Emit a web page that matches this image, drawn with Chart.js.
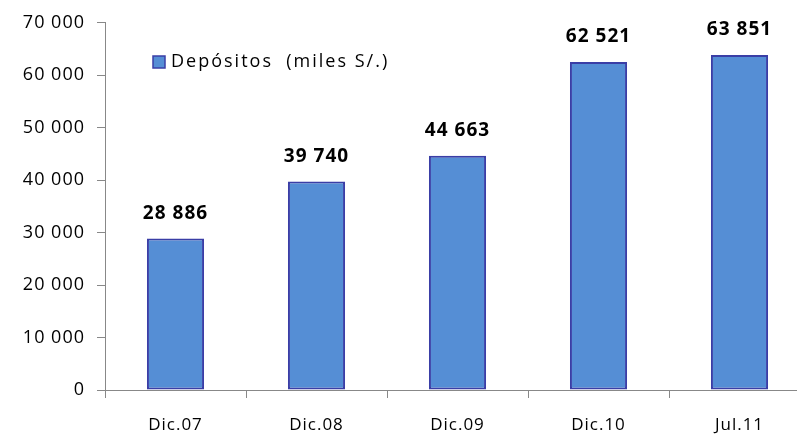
<!DOCTYPE html>
<html>
<head>
<meta charset="utf-8">
<script src="https://cdn.jsdelivr.net/npm/chart.js@4"></script>
<style>
  html, body { margin: 0; padding: 0; background: #fff; overflow: hidden; }
  #wrap { width: 830px; height: 434px; }
</style>
</head>
<body>
<div id="wrap"><canvas id="myChart" width="830" height="434"></canvas></div>
<script>
const categories = ['Dic.07', 'Dic.08', 'Dic.09', 'Dic.10', 'Jul.11'];
const depositos = [28886, 39740, 44663, 62521, 63851];
const seriesLabel = 'Depósitos  (miles S/.)';
const yTicks = [0, 10000, 20000, 30000, 40000, 50000, 60000, 70000];

const fmt = v => String(v).replace(/\B(?=(\d{3})+(?!\d))/g, ' ');

// spacing like the pdf text
const spacing = {
  id: 'spacing',
  beforeDraw(chart) { chart.ctx.letterSpacing = '1px'; }
};

// value labels over bars
const valueLabels = {
  id: 'valueLabels',
  afterDatasetsDraw(chart) {
    const ctx = chart.ctx;
    const meta = chart.getDatasetMeta(0);
    ctx.save();
    ctx.letterSpacing = '1px';
    ctx.font = 'bold 19px "Open Sans"';
    ctx.fillStyle = '#000';
    ctx.textAlign = 'center';
    ctx.textBaseline = 'middle';
    meta.data.forEach((bar, i) => {
      ctx.fillText(fmt(depositos[i]), bar.x, bar.y - 25);
    });
    ctx.restore();
  }
};

// legend inside the plot
const innerLegend = {
  id: 'innerLegend',
  afterDraw(chart) {
    const ctx = chart.ctx;
    const ds = chart.data.datasets[0];
    ctx.save();
    ctx.fillStyle = ds.backgroundColor;
    ctx.strokeStyle = ds.borderColor;
    ctx.lineWidth = 1.5;
    ctx.fillRect(153, 56, 12, 12);
    ctx.strokeRect(153, 56, 12, 12);
    ctx.letterSpacing = '2px';
    ctx.font = '18px "Open Sans"';
    ctx.fillStyle = '#000';
    ctx.textBaseline = 'middle';
    ctx.fillText(ds.label, 171, 62);
    ctx.restore();
  }
};

new Chart(document.getElementById('myChart'), {
  type: 'bar',
  data: {
    labels: categories,
    datasets: [{
      label: seriesLabel,
      data: depositos,
      backgroundColor: '#558ed5',
      borderColor: '#3a3ea6',
      borderWidth: 2,
      borderSkipped: false,
      barPercentage: 1,
      categoryPercentage: 0.405
    }]
  },
  options: {
    responsive: false,
    animation: false,
    layout: { padding: { top: 21, right: 20, left: 0, bottom: 0 } },
    plugins: {
      legend: { display: false },
      tooltip: { enabled: false }
    },
    scales: {
      x: {
        grid: { drawOnChartArea: false, color: '#888', tickLength: 8, offset: true },
        border: { color: '#888', width: 1 },
        ticks: { color: '#000', font: { family: 'Open Sans', size: 17 }, padding: 17 },
        afterFit(scale) { scale.height = 44; }
      },
      y: {
        min: 0,
        max: 70000,
        afterBuildTicks(scale) { scale.ticks = yTicks.map(v => ({ value: v })); },
        grid: { drawOnChartArea: false, color: '#888', tickLength: 8 },
        border: { color: '#888', width: 1 },
        ticks: {
          color: '#000',
          font: { family: 'Open Sans', size: 18 },
          padding: 12,
          callback: v => fmt(v)
        },
        afterFit(scale) { scale.width = 105; }
      }
    }
  },
  plugins: [spacing, valueLabels, innerLegend]
});
</script>
</body>
</html>
